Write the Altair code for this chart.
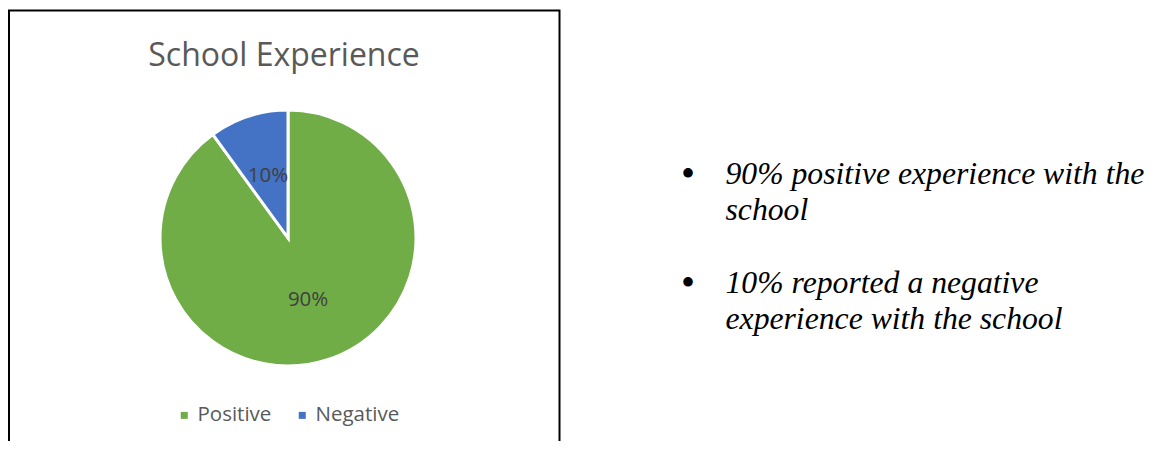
import altair as alt
import pandas as pd

categories = ["Positive", "Negative"]
values = [90, 10]
labels = ["90%", "10%"]
colors = ["#70AD47", "#4472C4"]
title_text = "School Experience"
bullet_lines = [
    ["90% positive experience with the", "school"],
    ["10% reported a negative", "experience with the school"],
]

df = pd.DataFrame({"category": categories, "value": values, "label": labels,
                   "idx": list(range(len(categories)))})

W, H = 1139, 433
cx, cy, R = 280, 230, 128

color_scale = alt.Scale(domain=categories, range=colors)

base = alt.Chart(df)

border = alt.Chart(pd.DataFrame({"a": [0]})).mark_rect(
    fillOpacity=0, stroke="black", strokeWidth=2
).encode(x=alt.value(1), x2=alt.value(551.5), y=alt.value(2.5), y2=alt.value(470))

pie = base.mark_arc(outerRadius=R, stroke="white", strokeWidth=3).encode(
    theta=alt.Theta("value:Q", stack=True),
    color=alt.Color("category:N", scale=color_scale, sort=categories,
                    legend=alt.Legend(orient="none", legendX=166, legendY=397,
                                      direction="horizontal", title=None,
                                      symbolType="square", symbolSize=49,
                                      symbolStrokeWidth=0,
                                      labelFont="Open Sans", labelFontSize=20.5,
                                      labelColor="#595959", labelOffset=3,
                                      columnPadding=20)),
    order=alt.Order("idx:Q"),
    x=alt.value(cx), y=alt.value(cy),
)

pie_text = base.mark_text(radius=65, font="Open Sans", fontSize=20.5,
                          color="#404040").encode(
    theta=alt.Theta("value:Q", stack=True),
    order=alt.Order("idx:Q"),
    text="label:N",
    x=alt.value(cx), y=alt.value(cy),
)

title = alt.Chart(pd.DataFrame({"t": [title_text]})).mark_text(
    font="Open Sans", fontSize=32, color="#595959", baseline="alphabetic", align="center"
).encode(text="t:N", x=alt.value(276), y=alt.value(58))

layers = [border, pie, pie_text, title]

block_y = [176, 285]
line_gap = 36
for bi, lines in enumerate(bullet_lines):
    layers.append(alt.Chart(pd.DataFrame({"t": ["•"]})).mark_text(
        font="Liberation Serif", fontSize=40, color="black", baseline="middle", align="center"
    ).encode(text="t:N", x=alt.value(680), y=alt.value(block_y[bi] - 8 - 1)))
    for li, line in enumerate(lines):
        layers.append(alt.Chart(pd.DataFrame({"t": [line]})).mark_text(
            font="Liberation Serif", fontSize=31.7, fontStyle="italic", color="black",
            baseline="alphabetic", align="left"
        ).encode(text="t:N", x=alt.value(717.5),
                 y=alt.value(block_y[bi] + li * line_gap)))

chart = alt.layer(*layers).properties(
    width=W, height=H, autosize=alt.AutoSizeParams(type="none"), padding=0,
    background="white"
).configure_view(stroke=None)

chart.save("out.html", embed_options={"renderer": "svg", "actions": False})
